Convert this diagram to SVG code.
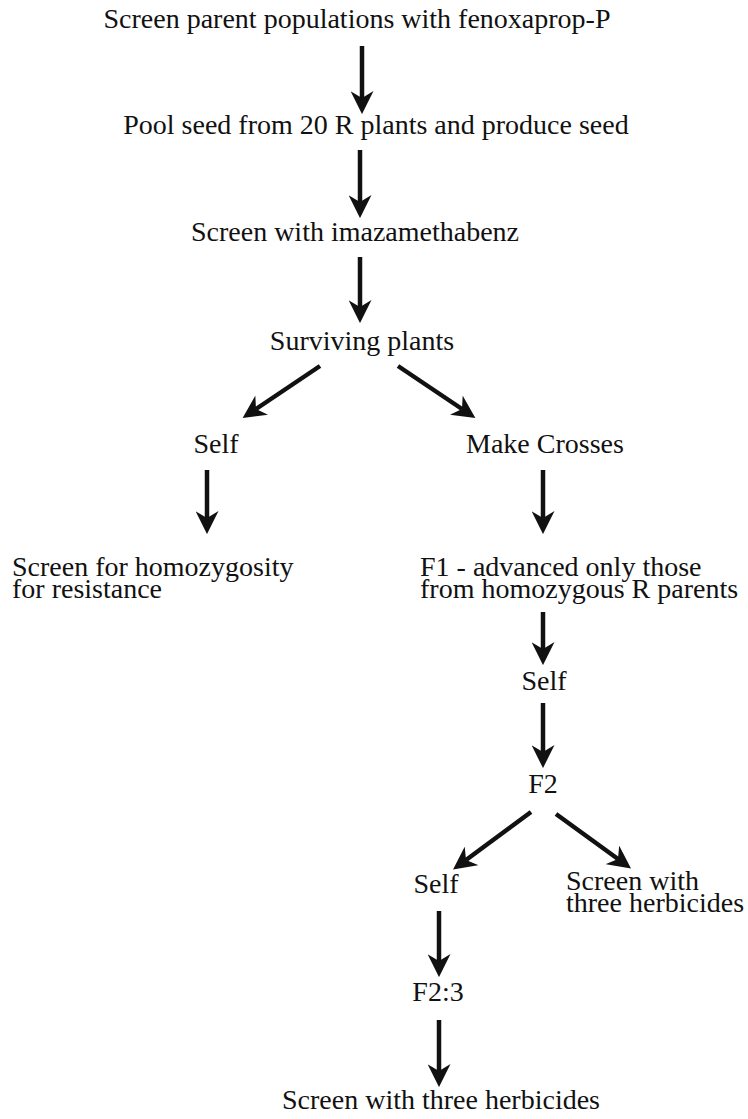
<svg xmlns="http://www.w3.org/2000/svg" width="748" height="1119" viewBox="0 0 748 1119">
<defs>
<style>
text{font-family:"Liberation Serif","Times New Roman","DejaVu Serif",serif;font-size:28px;fill:#111;}
.m{text-anchor:middle;}
.c line{stroke:#111;stroke-width:4.5;marker-end:url(#ah);}
</style>
<marker id="ah" viewBox="0 0 20 20" refX="6" refY="10" markerWidth="23" markerHeight="23" markerUnits="userSpaceOnUse" orient="auto">
<path d="M0,0 L20,10 L0,20 L6,10 z" fill="#111"/>
</marker>
</defs>
<rect width="748" height="1119" fill="#fff"/>
<g id="n1"><text class="m" x="357" y="28">Screen parent populations with fenoxaprop-P</text></g>
<g id="n2"><text class="m" x="376" y="134">Pool seed from 20 R plants and produce seed</text></g>
<g id="n3"><text class="m" x="355" y="241">Screen with imazamethabenz</text></g>
<g id="n4"><text class="m" x="362" y="350">Surviving plants</text></g>
<g id="n5"><text class="m" x="216" y="453">Self</text></g>
<g id="n6"><text x="466" y="453">Make Crosses</text></g>
<g id="n7"><text x="12" y="576">Screen for homozygosity</text><text x="12" y="598">for resistance</text></g>
<g id="n8"><text x="420" y="576">F1 - advanced only those</text><text x="420" y="598">from homozygous R parents</text></g>
<g id="n9"><text class="m" x="544" y="690">Self</text></g>
<g id="n10"><text class="m" x="543" y="793">F2</text></g>
<g id="n11"><text class="m" x="436" y="893">Self</text></g>
<g id="n12"><text x="566" y="890">Screen with</text><text x="566" y="912">three herbicides</text></g>
<g id="n13"><text class="m" x="438" y="1001">F2:3</text></g>
<g id="n14"><text class="m" x="441" y="1109">Screen with three herbicides</text></g>
<g id="connectors" class="c">
<line x1="362" y1="46" x2="362" y2="98"/>
<line x1="360" y1="150" x2="360" y2="202"/>
<line x1="360" y1="257" x2="360" y2="307"/>
<line x1="320" y1="366" x2="256" y2="409"/>
<line x1="398" y1="366" x2="462" y2="409"/>
<line x1="207" y1="470" x2="207" y2="518"/>
<line x1="543" y1="470" x2="543" y2="518"/>
<line x1="543" y1="612" x2="543" y2="649"/>
<line x1="543" y1="703" x2="543" y2="752"/>
<line x1="531" y1="812" x2="466" y2="860"/>
<line x1="556" y1="814" x2="618" y2="859"/>
<line x1="439" y1="911" x2="439" y2="961"/>
<line x1="439" y1="1020" x2="439" y2="1071"/>
</g>
</svg>
